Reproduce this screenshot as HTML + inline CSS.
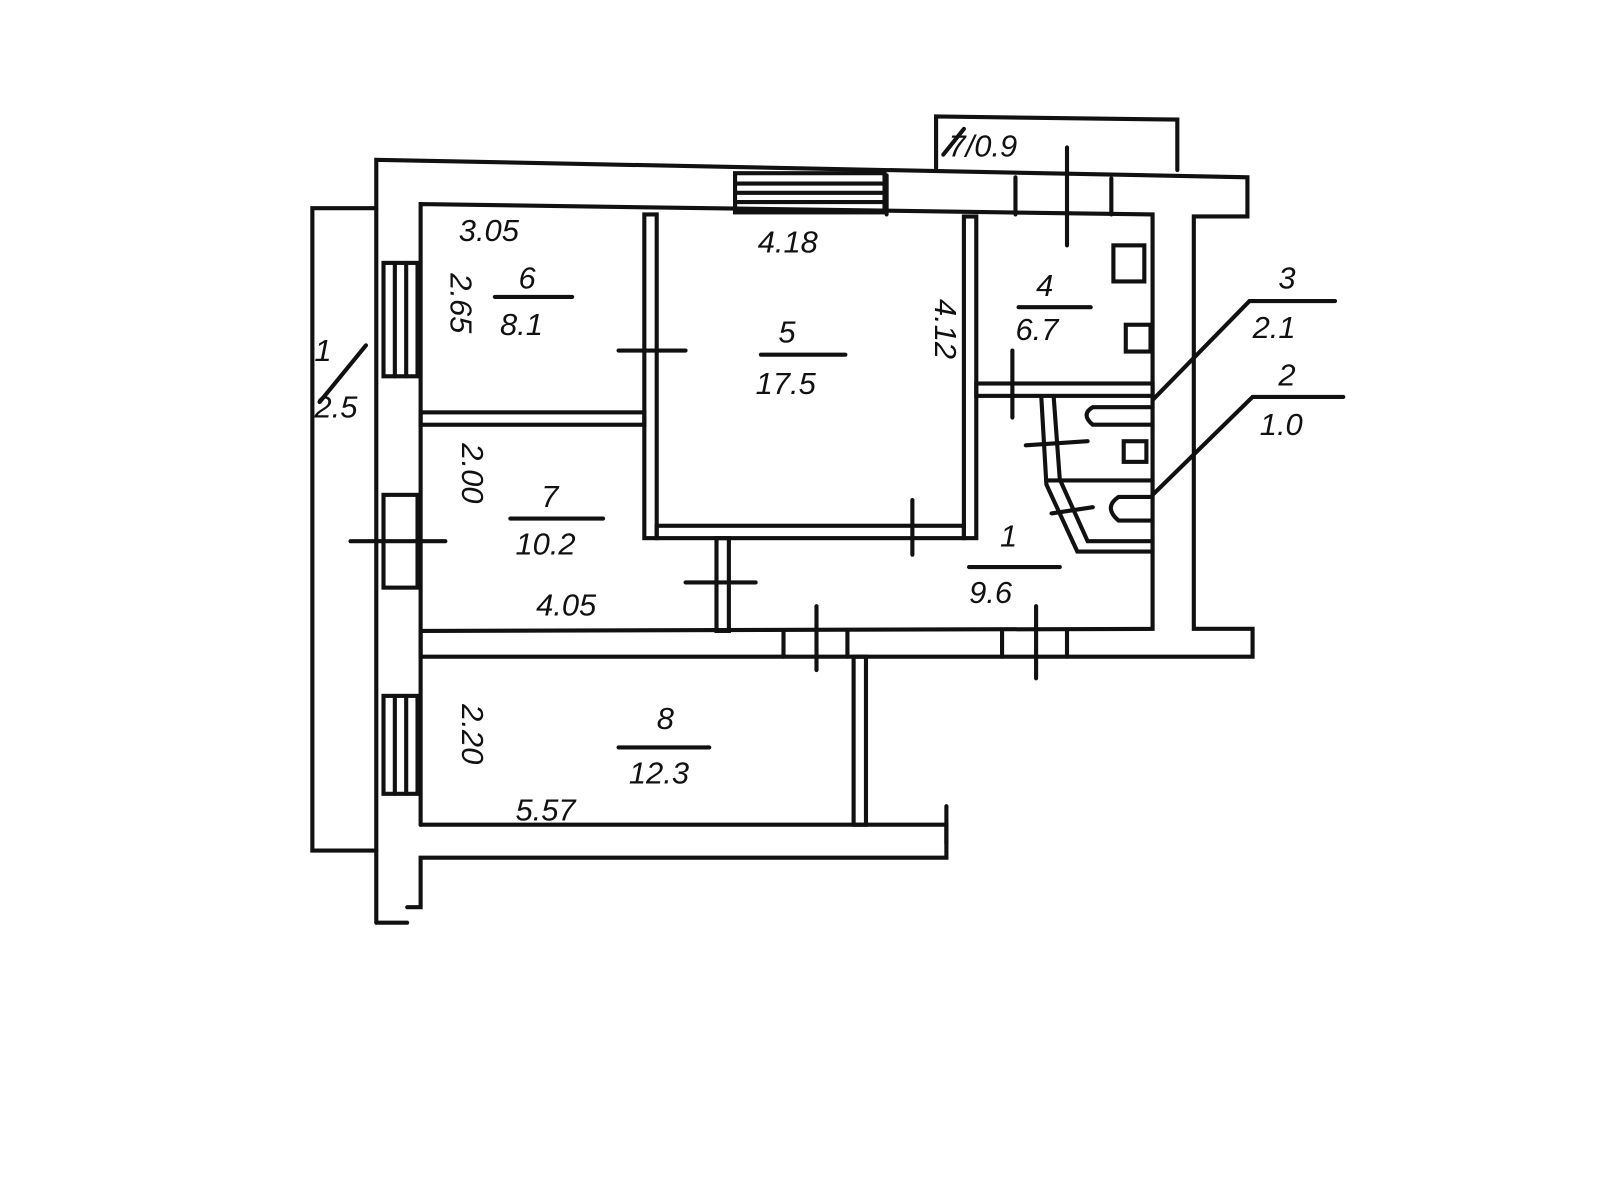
<!DOCTYPE html>
<html><head><meta charset="utf-8"><style>
html,body{margin:0;padding:0;background:#fff;}
svg{display:block;}
text{font-family:"Liberation Sans",sans-serif;font-style:italic;fill:#111;}
</style></head><body>
<svg width="1600" height="1200" viewBox="0 0 1552 1164" preserveAspectRatio="none" xmlns="http://www.w3.org/2000/svg">
<rect width="1552" height="1164" fill="#fff"/>
<g stroke="#111" stroke-width="4" fill="none" stroke-linecap="round">
<polyline points="365,202 303,202 303,825 365,825"/>
<polyline points="908,163 908,113 1142,116 1142,165"/>
<polyline points="365,895 365,155 1210,172 1210,210 1158,210 1158,610 1215,610 1215,637 408,637"/>
<polyline points="408,800 918,800 918,832 408,832 408,880 395,880"/>
<polyline points="395,895 365,895"/>
<polyline points="408,800 408,198 1118,208 1118,610 408,612"/>
<line x1="408" y1="612" x2="408" y2="637"/>
<rect x="713" y="168" width="145" height="38"/>
<line x1="713" y1="178" x2="858" y2="178"/><line x1="713" y1="187" x2="858" y2="187"/><line x1="713" y1="196" x2="858" y2="196"/>
<line x1="860" y1="170" x2="860" y2="208"/><line x1="985" y1="172" x2="985" y2="208"/><line x1="1078" y1="173" x2="1078" y2="208"/>
<line x1="1035" y1="143" x2="1035" y2="238"/>
<rect x="372" y="255" width="33" height="110"/>
<line x1="383" y1="255" x2="383" y2="365"/><line x1="394" y1="255" x2="394" y2="365"/>
<rect x="372" y="480" width="33" height="90"/>
<line x1="340" y1="525" x2="432" y2="525"/>
<rect x="372" y="675" width="33" height="95"/>
<line x1="383" y1="675" x2="383" y2="770"/><line x1="394" y1="675" x2="394" y2="770"/>
<rect x="625" y="208" width="12" height="314"/>
<rect x="408" y="400" width="217" height="12"/>
<rect x="637" y="510" width="298" height="12"/>
<rect x="935" y="210" width="12" height="312"/>
<rect x="947" y="372" width="171" height="12"/>
<line x1="600" y1="340" x2="665" y2="340"/>
<line x1="885" y1="485" x2="885" y2="538"/>
<line x1="982" y1="340" x2="982" y2="405"/>
<rect x="695" y="522" width="12" height="90"/>
<line x1="665" y1="565" x2="733" y2="565"/>
<line x1="760" y1="612" x2="760" y2="637"/><line x1="822" y1="612" x2="822" y2="637"/>
<line x1="792" y1="588" x2="792" y2="650"/>
<line x1="972" y1="612" x2="972" y2="637"/><line x1="1035" y1="612" x2="1035" y2="637"/>
<line x1="1005" y1="588" x2="1005" y2="658"/>
<rect x="828" y="637" width="12" height="163"/>
<line x1="918" y1="782" x2="918" y2="818"/>
<polyline points="1010,384 1015,470 1045,535 1118,535"/>
<polyline points="1022,384 1028,465 1055,525 1118,525"/>
<line x1="1015" y1="466" x2="1118" y2="466"/>
<line x1="995" y1="432" x2="1055" y2="428"/>
<line x1="1020" y1="498" x2="1060" y2="492"/>
<path d="M1118,395 H1060 Q1048,402 1060,412 H1118"/>
<rect x="1090" y="428" width="22" height="20"/>
<path d="M1118,482 H1085 Q1070,492 1085,505 H1118"/>
<rect x="1080" y="238" width="30" height="35"/>
<rect x="1092" y="315" width="24" height="26"/>
<polyline points="1118,388 1212,292 1295,292"/>
<polyline points="1118,480 1215,385 1303,385"/>
<line x1="480" y1="288" x2="555" y2="288"/>
<line x1="738" y1="344" x2="820" y2="344"/>
<line x1="988" y1="298" x2="1058" y2="298"/>
<line x1="495" y1="503" x2="585" y2="503"/>
<line x1="940" y1="550" x2="1028" y2="550"/>
<line x1="600" y1="725" x2="688" y2="725"/>
<line x1="355" y1="335" x2="310" y2="390"/>
<line x1="915" y1="150" x2="935" y2="125"/>
</g>
<g font-size="30">
<text x="445" y="234">3.05</text>
<text x="735" y="245">4.18</text>
<text x="503" y="280">6</text>
<text x="485" y="325">8.1</text>
<text x="755" y="332">5</text>
<text x="733" y="382">17.5</text>
<text x="1005" y="287">4</text>
<text x="985" y="330">6.7</text>
<text x="1240" y="280">3</text>
<text x="1215" y="328">2.1</text>
<text x="1240" y="374">2</text>
<text x="1222" y="422">1.0</text>
<text x="525" y="492">7</text>
<text x="500" y="538">10.2</text>
<text x="970" y="530">1</text>
<text x="940" y="585">9.6</text>
<text x="520" y="597">4.05</text>
<text x="637" y="707">8</text>
<text x="610" y="760">12.3</text>
<text x="500" y="796">5.57</text>
<text x="920" y="152">7/0.9</text>
<text transform="translate(437,265) rotate(90)">2.65</text>
<text transform="translate(907,290) rotate(90)">4.12</text>
<text transform="translate(448,430) rotate(90)">2.00</text>
<text transform="translate(448,683) rotate(90)">2.20</text>
<text x="305" y="350">1</text>
<text x="305" y="405">2.5</text>
</g>
</svg>
</body></html>
